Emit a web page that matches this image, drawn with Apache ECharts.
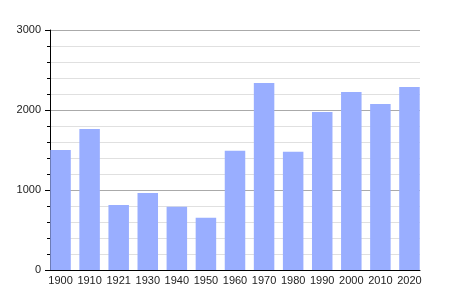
<!DOCTYPE html>
<html><head><meta charset="utf-8">
<script src="https://cdn.jsdelivr.net/npm/echarts@6/dist/echarts.min.js"></script>
<style>html,body{margin:0;padding:0;background:#fff}#c{width:450px;height:300px}</style>
</head><body><div id="c"></div>
<script>
const categories = ['1900','1910','1921','1930','1940','1950','1960','1970','1980','1990','2000','2010','2020'];
const population = [1500,1762,812,962,792,654,1492,2337,1479,1975,2225,2075,2287];
const yTicks = [0,1000,2000,3000];

const chart = echarts.init(document.getElementById('c'));
const font = {fontFamily:'Liberation Sans, Arial, sans-serif', fontSize:11, color:'#222'};
chart.setOption({
  animation:false,
  grid:[
    {left:50, right:30, top:30, bottom:30},
    {left:46, right:26, top:30, bottom:30}
  ],
  xAxis:[
    {gridIndex:0, type:'value', min:0, max:1, axisLine:{show:true, onZero:false, lineStyle:{color:'#000', width:1}},
     axisTick:{show:false}, axisLabel:{show:false}, splitLine:{show:false}},
    {gridIndex:1, type:'category', data:categories, axisLine:{show:false}, axisTick:{show:false},
     axisLabel:Object.assign({margin:5, interval:0}, font)}
  ],
  yAxis:[
    {gridIndex:0, type:'value', min:yTicks[0], max:yTicks[yTicks.length-1], interval:1000,
     axisLine:{show:true, lineStyle:{color:'#000', width:1}},
     axisTick:{show:true, length:5, lineStyle:{color:'#000'}},
     minorTick:{show:true, splitNumber:5, length:3, lineStyle:{color:'#000'}},
     splitLine:{show:true, lineStyle:{color:'#aaaaaa', width:1}},
     minorSplitLine:{show:true, lineStyle:{color:'#e0e0e0', width:1}},
     axisLabel:Object.assign({margin:9, formatter:function(v){return String(v);}}, font)},
    {gridIndex:1, type:'value', min:0, max:3000, show:false, splitLine:{show:false}}
  ],
  series:[{
    type:'bar', xAxisIndex:1, yAxisIndex:1, data:population, barWidth:20.5,
    itemStyle:{color:'#99aeff'}
  }]
});
</script></body></html>
